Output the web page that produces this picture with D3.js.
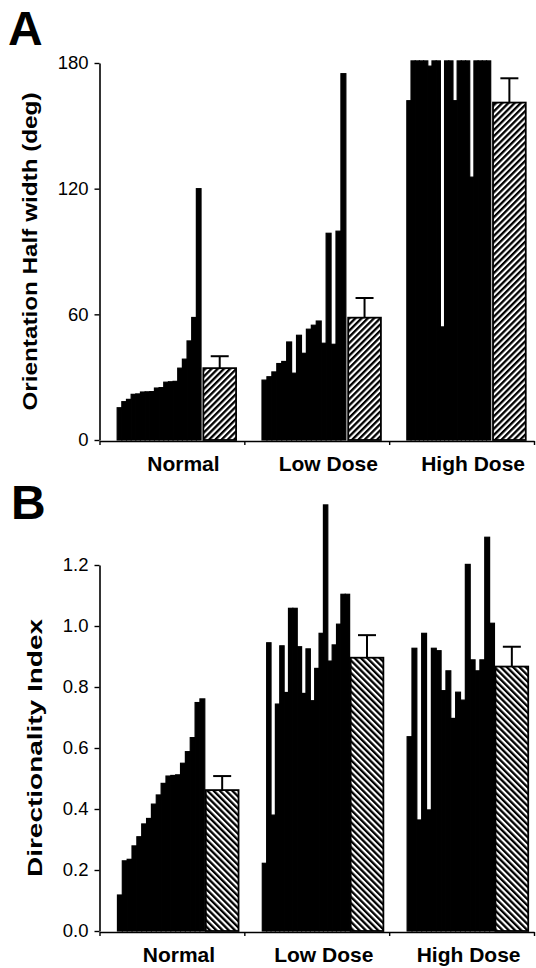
<!DOCTYPE html>
<html>
<head>
<meta charset="utf-8">
<script src="https://cdn.jsdelivr.net/npm/d3@7"></script>
<style>
  body { margin: 0; background: #fff; }
  text { font-family: "Liberation Sans", Arial, Helvetica, sans-serif; fill: #000; }
</style>
</head>
<body>
<svg id="fig" width="536" height="968"></svg>
<script>
// ---- data ----
const groups = ["Normal", "Low Dose", "High Dose"];

// A: orientation tuning half width (deg), one bar per cell
const halfWidthNormal = [15.4, 18.3, 19.4, 21.8, 22.0, 22.9, 23.0, 23.1, 24.8, 25.0, 27.6, 27.8, 28.0, 34.3, 38.6, 47.3, 58.5, 120];
const halfWidthLow = [28.6, 30.2, 32.5, 36.5, 37.5, 46.8, 31.9, 50.0, 41.4, 52.9, 54.8, 56.8, 46.2, 98.7, 45.7, 99.7, 174.9];
const halfWidthHigh = [162, 181, 181, 181, 181, 178.5, 181, 181, 54, 181, 181, 162, 181, 181, 181, 125.5, 181, 181, 181, 181];
const halfWidthMean = [34.3, 58.4, 161.1];
const halfWidthSem = [5.7, 9.4, 11.6];
const halfWidthTicks = [0, 60, 120, 180];

// B: directionality index, one bar per cell
const dirIndexNormal = [0.118, 0.230, 0.235, 0.279, 0.309, 0.351, 0.369, 0.416, 0.446, 0.484, 0.508, 0.510, 0.512, 0.550, 0.588, 0.634, 0.749, 0.761];
const dirIndexLow = [0.222, 0.945, 0.380, 0.744, 0.935, 0.782, 1.058, 1.058, 0.932, 0.779, 0.925, 0.755, 0.861, 0.976, 1.397, 0.885, 0.938, 1.006, 1.104, 1.104];
const dirIndexHigh = [0.637, 0.927, 0.364, 0.976, 0.397, 0.927, 0.919, 0.788, 0.853, 0.697, 0.783, 0.757, 1.202, 0.889, 0.853, 0.889, 1.291, 1.009];
const dirIndexMean = [0.462, 0.896, 0.867];
const dirIndexSem = [0.046, 0.074, 0.065];
const dirIndexTicks = [0, 0.2, 0.4, 0.6, 0.8, 1.0, 1.2];

// ---- layout ----
const svg = d3.select("#fig");
const xLeft = 99.5, xRight = 534;
const x = d3.scaleBand().domain(groups).range([xLeft, xRight]);
const xEdge = d3.scaleLinear().domain([0, groups.length]).range([xLeft, xRight]);

const defs = svg.append("defs");
function hatch(id, angle) {
  const s = 4.4;
  const p = defs.append("pattern").attr("id", id)
    .attr("patternUnits", "userSpaceOnUse")
    .attr("width", s).attr("height", s)
    .attr("patternTransform", `rotate(${angle})`);
  p.append("rect").attr("width", s).attr("height", s).attr("fill", "#fff");
  p.append("rect").attr("width", 2.3).attr("height", s).attr("fill", "#000");
}
hatch("hatchA", 45);
hatch("hatchB", -45);

const panels = [
  {
    letter: "A", letterY: 44.5, letterX: 8,
    cells: [halfWidthNormal, halfWidthLow, halfWidthHigh],
    mean: halfWidthMean, sem: halfWidthSem, ticks: halfWidthTicks,
    domain: [0, 180], range: [440, 63], fmt: d3.format("d"),
    title: "Orientation Half width (deg)", titleX: 29, titleLen: 318,
    pattern: "hatchA",
    black: [0.122, 0.701], mark: [0.717, 0.943],
    labelY: 471, labelDx: 11.5
  },
  {
    letter: "B", letterY: 519, letterX: 11,
    cells: [dirIndexNormal, dirIndexLow, dirIndexHigh],
    mean: dirIndexMean, sem: dirIndexSem, ticks: dirIndexTicks,
    domain: [0, 1.2], range: [931, 565], fmt: d3.format(".1f"),
    title: "Directionality Index", titleX: 34, titleLen: 258,
    pattern: "hatchB",
    black: [0.124, 0.727], mark: [0.734, 0.960],
    labelY: 962, labelDx: 7
  }
];

panels.forEach(P => {
  const y = d3.scaleLinear().domain(P.domain).range(P.range);
  const g = svg.append("g");
  const bw = x.bandwidth();

  groups.forEach((name, gi) => {
    const gx = x(name);
    const vals = P.cells[gi];
    const xi = d3.scaleBand().domain(d3.range(vals.length))
      .range([gx + bw * P.black[0], gx + bw * P.black[1]]);

    // individual cells
    g.append("g").selectAll("rect").data(vals).join("rect")
      .attr("x", (d, i) => xi(i))
      .attr("width", xi.bandwidth())
      .attr("y", d => y(d))
      .attr("height", d => y(0) - y(d))
      .attr("fill", "#000")
      .attr("stroke", "#000")
      .attr("stroke-width", 1.2);

    // group mean with SEM
    const mx0 = gx + bw * P.mark[0], mx1 = gx + bw * P.mark[1];
    const mc = (mx0 + mx1) / 2;
    const m = P.mean[gi], e = P.sem[gi];
    g.append("line")
      .attr("x1", mc).attr("x2", mc)
      .attr("y1", y(m)).attr("y2", y(m + e))
      .attr("stroke", "#000").attr("stroke-width", 2);
    g.append("line")
      .attr("x1", mc - 9).attr("x2", mc + 9)
      .attr("y1", y(m + e)).attr("y2", y(m + e))
      .attr("stroke", "#000").attr("stroke-width", 2);
    g.append("rect")
      .attr("x", mx0).attr("width", mx1 - mx0)
      .attr("y", y(m)).attr("height", y(0) - y(m))
      .attr("fill", `url(#${P.pattern})`)
      .attr("stroke", "#000").attr("stroke-width", 1.8);

    // group label
    g.append("text")
      .attr("x", x(name) + bw / 2 + P.labelDx)
      .attr("y", P.labelY)
      .attr("text-anchor", "middle")
      .attr("font-weight", "bold")
      .attr("font-size", 21)
      .text(name);
  });

  // y axis
  const ya = g.append("g")
    .attr("transform", `translate(${xLeft},0)`)
    .call(d3.axisLeft(y).tickValues(P.ticks).tickFormat(P.fmt)
      .tickSize(5).tickSizeOuter(0).tickPadding(6));
  ya.select(".domain").attr("stroke-width", 1.6);
  ya.selectAll(".tick line").attr("stroke-width", 1.4);
  ya.selectAll(".tick text")
    .attr("font-size", 18.5)
    .attr("font-family", "'Liberation Sans', Arial, Helvetica, sans-serif");

  // x axis with ticks at group boundaries
  const xa = g.append("g")
    .attr("transform", `translate(0,${y(0) + 1})`)
    .call(d3.axisBottom(xEdge).tickValues(d3.range(groups.length + 1))
      .tickFormat("").tickSize(4).tickSizeOuter(0));
  xa.select(".domain").attr("stroke-width", 1.6);
  xa.selectAll(".tick line").attr("stroke-width", 1.4);

  // axis title
  const ty = (P.range[0] + P.range[1]) / 2;
  g.append("text")
    .attr("transform", `translate(${P.titleX},${ty}) rotate(-90)`)
    .attr("text-anchor", "middle")
    .attr("dominant-baseline", "central")
    .attr("font-weight", "bold")
    .attr("font-size", 20.5)
    .attr("textLength", P.titleLen)
    .attr("lengthAdjust", "spacingAndGlyphs")
    .text(P.title);

  // panel letter
  svg.append("text")
    .attr("x", P.letterX).attr("y", P.letterY)
    .attr("font-weight", "bold")
    .attr("font-size", 48)
    .text(P.letter);
});
</script>
</body>
</html>
